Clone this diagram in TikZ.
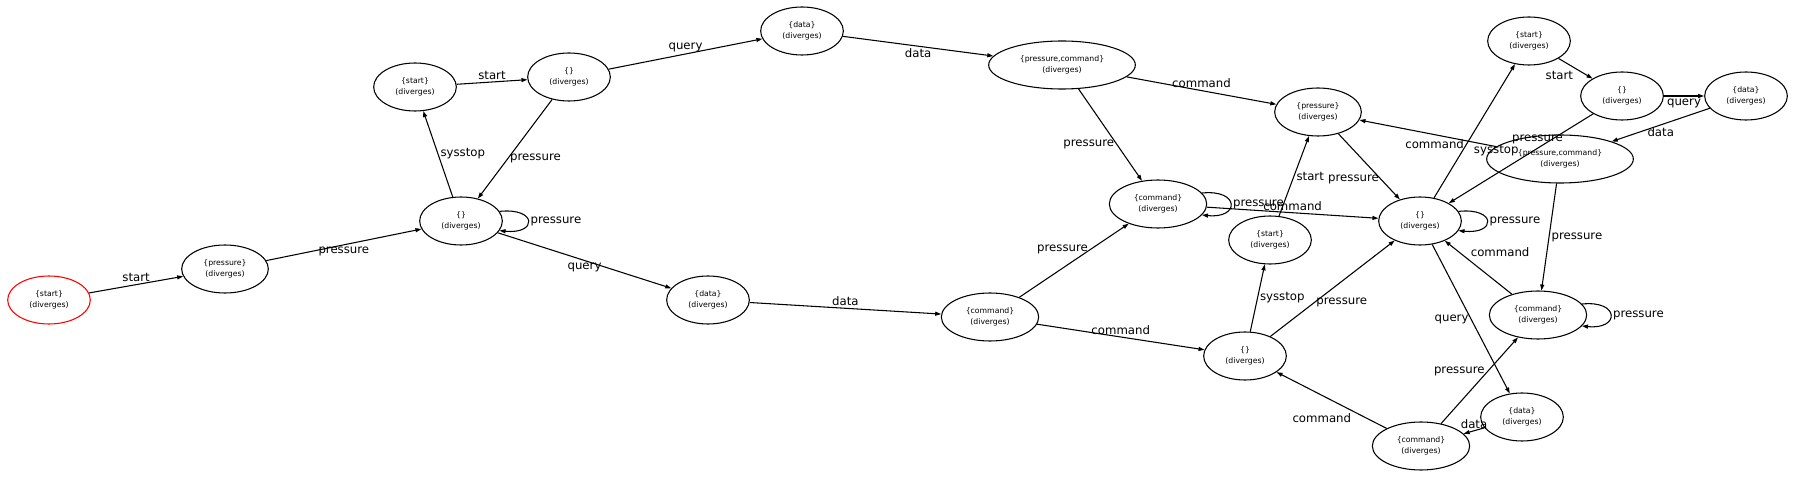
\documentclass[tikz,border=0pt]{standalone}
\usepackage{fontspec}
\setmainfont{DejaVu Sans}
\usetikzlibrary{shapes.geometric,arrows.meta}

\begin{document}
\begin{tikzpicture}[x=0.75pt, y=-0.75pt, inner sep=1.5pt, >={Triangle[length=4.5pt,width=3pt]},
  font=\fontsize{8.8}{10}\selectfont,
  state/.style={ellipse, draw, line width=0.8pt, minimum width=62pt, minimum height=36pt,
    inner sep=1pt, align=center, font=\fontsize{5.8}{8}\selectfont},
  edge/.style={->, line width=0.8pt}]
\useasboundingbox (0,0) rectangle (1795,477);
\node (s1) at (49,300) [state, draw=red] {\{start\}\\(diverges)};
\node (s2) at (225,269) [state, minimum width=65pt] {\{pressure\}\\(diverges)};
\node (s3) at (461,221) [state] {\{\}\\(diverges)};
\node (s4) at (415,87) [state] {\{start\}\\(diverges)};
\node (s5) at (569,77) [state] {\{\}\\(diverges)};
\node (s6) at (802,31) [state] {\{data\}\\(diverges)};
\node (s7) at (1062,65) [state, minimum width=110pt] {\{pressure,command\}\\(diverges)};
\node (s8) at (1158,204) [state, minimum width=73pt] {\{command\}\\(diverges)};
\node (s9) at (990,317) [state, minimum width=73pt] {\{command\}\\(diverges)};
\node (s10) at (708,300) [state] {\{data\}\\(diverges)};
\node (s11) at (1245,356) [state] {\{\}\\(diverges)};
\node (s12) at (1270,240) [state] {\{start\}\\(diverges)};
\node (s13) at (1318,112) [state, minimum width=65pt] {\{pressure\}\\(diverges)};
\node (s14) at (1420,221) [state] {\{\}\\(diverges)};
\node (s15) at (1529,41) [state] {\{start\}\\(diverges)};
\node (s16) at (1622,96) [state] {\{\}\\(diverges)};
\node (s17) at (1746,96) [state] {\{data\}\\(diverges)};
\node (s18) at (1560,159) [state, minimum width=110pt] {\{pressure,command\}\\(diverges)};
\node (s19) at (1538,315) [state, minimum width=73pt] {\{command\}\\(diverges)};
\node (s20) at (1522,417) [state] {\{data\}\\(diverges)};
\node (s21) at (1421,446) [state, minimum width=73pt] {\{command\}\\(diverges)};
\draw[edge] (s1) -- node[above] {start} (s2);
\draw[edge] (s2) -- node[below] {pressure} (s3);
\draw[edge] (s3) -- node[right] {sysstop} (s4);
\draw[edge] (s4) -- node[above] {start} (s5);
\draw[edge] (s5) -- node[pos=0.6, right] {pressure} (s3);
\draw[edge] (s3.14) .. controls +(38,-4) and +(38,4) .. node[right] {pressure} (s3.-14);
\draw[edge] (s3) -- node[below] {query} (s10);
\draw[edge] (s5) -- node[above] {query} (s6);
\draw[edge] (s6) -- node[below] {data} (s7);
\draw[edge] (s7) -- node[above] {command} (s13);
\draw[edge] (s7) -- node[pos=0.6, left] {pressure} (s8);
\draw[edge] (s10) -- node[above] {data} (s9);
\draw[edge] (s9) -- node[pos=0.65, left] {pressure} (s8);
\draw[edge] (s9) -- node[above] {command} (s11);
\draw[edge] (s8.14) .. controls +(38,-4) and +(38,4) .. node[right] {pressure} (s8.-14);
\draw[edge] (s8) -- node[above] {command} (s14);
\draw[edge] (s12) -- node[right] {start} (s13);
\draw[edge] (s13) -- node[pos=0.7, left] {pressure} (s14);
\draw[edge] (s14) -- node[pos=0.4, left] {command} (s15);
\draw[edge] (s15) -- node[below left] {start} (s16);
\draw[edge] (s16) -- node[below] {query} (s17);
\draw[edge] (s17) -- node[below] {data} (s18);
\draw[edge] (s16) -- node[above left] {sysstop} (s14);
\draw[edge] (s18) -- node[pos=0, anchor=south west, xshift=10pt] {pressure} (s13);
\draw[edge] (s14.14) .. controls +(38,-4) and +(38,4) .. node[right] {pressure} (s14.-14);
\draw[edge] (s18) -- node[right] {pressure} (s19);
\draw[edge] (s11) -- node[right] {sysstop} (s12);
\draw[edge] (s11) -- node[pos=0.35, right] {pressure} (s14);
\draw[edge] (s19) -- node[pos=0.65, above right] {command} (s14);
\draw[edge] (s14) -- node[left] {query} (s20);
\draw[edge] (s20) -- node[above] {data} (s21);
\draw[edge] (s21) -- node[pos=0.3, below left] {command} (s11);
\draw[edge] (s21) -- node[pos=0.6, left] {pressure} (s19);
\draw[edge] (s19.14) .. controls +(38,-4) and +(38,4) .. node[right] {pressure} (s19.-14);
\end{tikzpicture}
\end{document}
